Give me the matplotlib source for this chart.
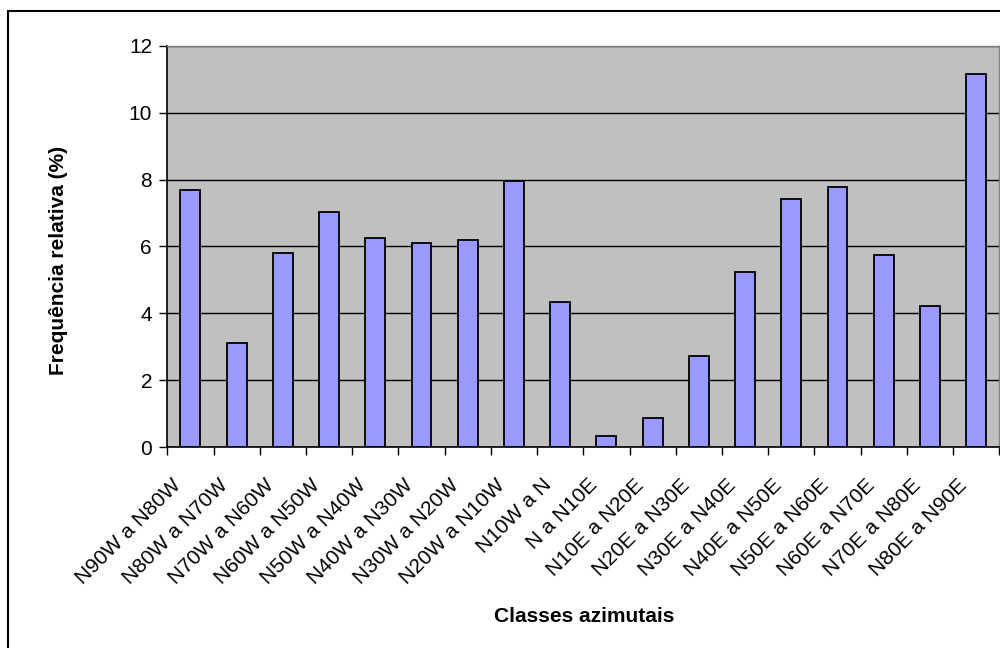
import matplotlib.pyplot as plt
import numpy as np
from matplotlib.patches import Rectangle
from matplotlib.transforms import ScaledTranslation

plt.rcParams['font.family'] = ['Liberation Sans', 'DejaVu Sans']

classes = ['N90W a N80W', 'N80W a N70W', 'N70W a N60W', 'N60W a N50W',
           'N50W a N40W', 'N40W a N30W', 'N30W a N20W', 'N20W a N10W',
           'N10W a N', 'N a N10E', 'N10E a N20E', 'N20E a N30E',
           'N30E a N40E', 'N40E a N50E', 'N50E a N60E', 'N60E a N70E',
           'N70E a N80E', 'N80E a N90E']
freq = [7.68, 3.12, 5.80, 7.04, 6.25, 6.10, 6.20, 7.97, 4.35,
        0.35, 0.89, 2.73, 5.25, 7.43, 7.78, 5.75, 4.21, 11.16]
yticks = [0, 2, 4, 6, 8, 10, 12]

W, H = 1000, 648
fig = plt.figure(figsize=(W / 100, H / 100), dpi=100)

# outer chart border
fig.patches.append(Rectangle((8 / W, -0.1), 1.2, 1 - 11 / H + 0.1,
                             transform=fig.transFigure, fill=False,
                             edgecolor='black', linewidth=1.5))

left, right, top, bottom = 167.3, 999.3, 45.7, 447.3
ax = fig.add_axes([left / W, 1 - bottom / H, (right - left) / W, (bottom - top) / H])
ax.set_facecolor('#C0C0C0')

x = np.arange(len(classes))
ax.bar(x, freq, width=0.43, color='#9999FF', edgecolor='black', linewidth=1.3, zorder=3)

ax.set_xlim(-0.5, len(classes) - 0.5)
ax.set_ylim(0, 12)
ax.set_yticks(yticks)
ax.set_yticklabels([str(v) for v in yticks], fontsize=15)
ax.yaxis.grid(True, color='black', linewidth=1)
ax.set_axisbelow(True)

# ticks at category boundaries, labels at centers
ax.set_xticks(np.arange(len(classes) + 1) - 0.5)
ax.set_xticklabels([])
ax.set_xticks(x, minor=True)
ax.set_xticklabels(classes, minor=True, rotation=45, ha='right', va='center',
                   rotation_mode='anchor', fontsize=15)
ax.tick_params(axis='x', which='minor', length=0, pad=25)
ax.tick_params(axis='x', which='major', direction='out', length=6, width=1)
ax.tick_params(axis='y', direction='out', length=6, width=1, pad=5)
offset = ScaledTranslation(-0.12, 0, fig.dpi_scale_trans)
for lbl in ax.get_xticklabels(minor=True):
    lbl.set_transform(lbl.get_transform() + offset)

for s in ['left', 'bottom']:
    ax.spines[s].set_color('black')
    ax.spines[s].set_linewidth(1.2)
for s in ['top', 'right']:
    ax.spines[s].set_color('#808080')
    ax.spines[s].set_linewidth(1)

fig.text(584 / W, 1 - 616 / H, 'Classes azimutais', ha='center', va='center',
         fontsize=15, fontweight='bold')
fig.text(58 / W, 1 - 260 / H, 'Frequência relativa (%)', ha='center', va='center',
         rotation=90, fontsize=15, fontweight='bold')

fig.savefig('out.png', dpi=100)
